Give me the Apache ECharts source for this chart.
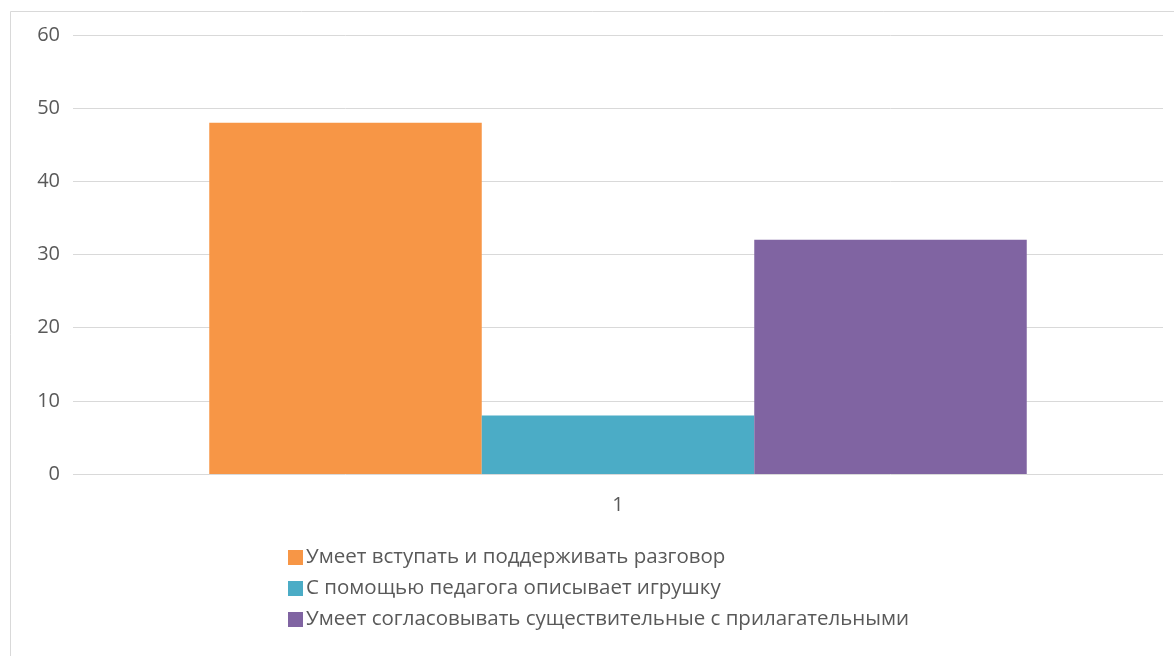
<!DOCTYPE html>
<html>
<head>
<meta charset="utf-8">
<script src="https://cdn.jsdelivr.net/npm/echarts@6/dist/echarts.min.js"></script>
<style>
html,body{margin:0;padding:0;background:#fff;}
#chart{width:1174px;height:656px;}
</style>
</head>
<body>
<div id="chart"></div>
<script>
const categories = ['1'];
const seriesNames = [
  'Умеет вступать и поддерживать разговор',
  'С помощью педагога описывает игрушку',
  'Умеет согласовывать существительные с прилагательными'
];
const seriesValues = [[48], [8], [32]];
const seriesColors = ['#F79646', '#4BACC6', '#8064A2'];

const chart = echarts.init(document.getElementById('chart'));
chart.setOption({
  animation: false,
  backgroundColor: '#fff',
  graphic: [{
    type: 'rect', left: 8, top: 9,
    shape: { width: 1200, height: 700 },
    style: { fill: 'none', stroke: '#d9d9d9', lineWidth: 1 },
    silent: true
  }],
  grid: { left: 73, right: 11, top: 35, bottom: 182 },
  legend: {
    orient: 'vertical',
    left: 283, top: 542,
    itemWidth: 15, itemHeight: 15, itemGap: 10,
    icon: 'rect',
    textStyle: { fontFamily: 'Open Sans', fontSize: 20.5, lineHeight: 16, color: '#595959', padding: [0,0,0,-2] },
    data: seriesNames
  },
  xAxis: {
    type: 'category', data: categories,
    axisLine: { show: false }, axisTick: { show: false },
    axisLabel: { fontFamily: 'Open Sans', fontSize: 20, color: '#595959', margin: 21 }
  },
  yAxis: {
    type: 'value', min: 0, max: 60, interval: 10,
    axisLine: { show: false }, axisTick: { show: false },
    axisLabel: { fontFamily: 'Open Sans', fontSize: 20, color: '#595959', margin: 13 },
    splitLine: { lineStyle: { color: '#d9d9d9', width: 1 } }
  },
  series: seriesNames.map((n, i) => ({
    name: n, type: 'bar', data: seriesValues[i],
    itemStyle: { color: seriesColors[i] },
    barGap: '0%', barCategoryGap: '25%'
  }))
});
</script>
</body>
</html>
